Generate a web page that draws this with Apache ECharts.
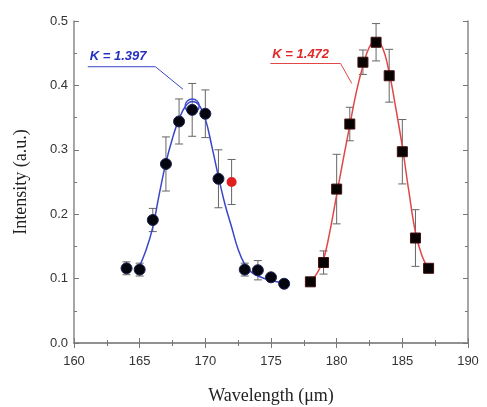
<!DOCTYPE html>
<html>
<head>
<meta charset="utf-8">
<script src="https://cdn.jsdelivr.net/npm/echarts@6/dist/echarts.min.js"></script>
<style>
  html, body { margin: 0; padding: 0; background: #fff; }
  #box1 { width: 487px; height: 407px; }
</style>
</head>
<body>
<div id="box1"></div>
<script>
// measured points, first peak (circles)
let blueX = [164, 165, 166, 167, 168, 169, 170, 171, 173, 174, 175, 176];
let blueY = [0.116, 0.114, 0.191, 0.278, 0.344, 0.362, 0.356, 0.255, 0.114, 0.113, 0.102, 0.092];
let blueErr = [0.010, 0.010, 0.018, 0.042, 0.035, 0.041, 0.037, 0.045, 0.010, 0.015, 0.005, 0.004];
// the red dot
let oddX = [172];
let oddY = [0.250];
let oddErr = [0.035];
// second peak (squares)
let redX = [178, 179, 180, 181, 182, 183, 184, 185, 186, 187];
let redY = [0.095, 0.125, 0.239, 0.340, 0.436, 0.467, 0.415, 0.297, 0.163, 0.116];
let redErr = [0.005, 0.018, 0.054, 0.026, 0.019, 0.029, 0.041, 0.050, 0.044, 0.006];
// fitted curves
let blueFitX = [164.8, 165.5, 166, 166.5, 167, 167.5, 168, 168.5, 169, 169.5, 170, 170.5, 171, 171.5, 172, 172.5, 173, 173.5, 174, 175, 176];
let blueFitY = [0.110, 0.145, 0.180, 0.232, 0.280, 0.318, 0.348, 0.368, 0.375, 0.370, 0.348, 0.305, 0.258, 0.215, 0.180, 0.145, 0.122, 0.110, 0.104, 0.097, 0.093];
let redFitX = [178, 178.5, 179, 179.5, 180, 180.5, 181, 181.5, 182, 182.5, 183, 183.5, 184, 184.5, 185, 185.5, 186, 186.5, 187];
let redFitY = [0.095, 0.108, 0.130, 0.175, 0.230, 0.285, 0.338, 0.390, 0.430, 0.460, 0.470, 0.458, 0.420, 0.365, 0.305, 0.235, 0.172, 0.135, 0.115];
// the highlighted fit peak
let ringX = [169];
let ringY = [0.368];
// labels and their leader lines
let blueLabel = 'K = 1.397';
let redLabel = 'K = 1.472';
let blueLeader = [[161.05, 0.429], [166.2, 0.429], [168.3, 0.394]];
let redLeader = [[174.95, 0.434], [180.3, 0.434], [181.15, 0.403]];

function pairs(xs, ys) {
    return xs.map(function (x, i) { return [x, ys[i]]; });
}
function errRows(xs, ys, es) {
    return xs.map(function (x, i) { return [x, ys[i] - es[i], ys[i] + es[i]]; });
}
function errorBars(data) {
    return {
        type: 'custom',
        z: 1,
        silent: true,
        data: data,
        renderItem: function (params, api) {
            let lo = api.coord([api.value(0), api.value(1)]);
            let hi = api.coord([api.value(0), api.value(2)]);
            let w = 4;
            let st = { stroke: '#666', lineWidth: 1 };
            return {
                type: 'group',
                children: [
                    { type: 'line', shape: { x1: lo[0], y1: lo[1], x2: hi[0], y2: hi[1] }, style: st },
                    { type: 'line', shape: { x1: lo[0] - w, y1: lo[1], x2: lo[0] + w, y2: lo[1] }, style: st },
                    { type: 'line', shape: { x1: hi[0] - w, y1: hi[1], x2: hi[0] + w, y2: hi[1] }, style: st }
                ]
            };
        }
    };
}

let box1 = document.querySelector('#box1');
let myChart1 = echarts.init(box1);

let axisLine = { show: true, lineStyle: { color: '#8a8a8a', width: 1.5 } };
let tickLine = { color: '#777', width: 1 };

let option1 = {
    animation: false,
    grid: { left: 74, right: 19, top: 21, bottom: 64, containLabel: false, outerBoundsMode: 'none' },
    xAxis: [
        {
            type: 'value', min: 160, max: 190, interval: 5,
            name: 'Wavelength (\u03bcm)', nameLocation: 'middle', nameGap: 44,
            nameTextStyle: { fontFamily: 'Liberation Serif', fontSize: 18, color: '#222' },
            axisLine: axisLine,
            axisTick: { inside: true, length: 5, lineStyle: tickLine },
            minorTick: { show: true, splitNumber: 2, length: 3, lineStyle: tickLine },
            axisLabel: { fontFamily: 'Liberation Sans', fontSize: 13, color: '#333', margin: 12 },
            splitLine: { show: false }
        },
        {
            type: 'value', position: 'top', min: 160, max: 190, interval: 5,
            axisLine: axisLine,
            axisTick: { inside: true, length: 5, lineStyle: tickLine },
            minorTick: { show: true, splitNumber: 2, length: 3, lineStyle: tickLine },
            axisLabel: { show: false },
            splitLine: { show: false }
        }
    ],
    yAxis: [
        {
            type: 'value', min: 0, max: 0.5, interval: 0.1,
            name: 'Intensity (a.u.)', nameLocation: 'middle', nameGap: 44,
            nameTextStyle: { fontFamily: 'Liberation Serif', fontSize: 18, color: '#222' },
            axisLine: axisLine,
            axisTick: { inside: true, length: 5, lineStyle: tickLine },
            minorTick: { show: true, splitNumber: 2, length: 3, lineStyle: tickLine },
            axisLabel: {
                fontFamily: 'Liberation Sans', fontSize: 13, color: '#333', margin: 6,
                formatter: function (v) { return v.toFixed(1); }
            },
            splitLine: { show: false }
        },
        {
            type: 'value', position: 'right', min: 0, max: 0.5, interval: 0.1,
            axisLine: axisLine,
            axisTick: { inside: true, length: 5, lineStyle: tickLine },
            minorTick: { show: true, splitNumber: 2, length: 3, lineStyle: tickLine },
            axisLabel: { show: false },
            splitLine: { show: false }
        }
    ],
    series: [
        errorBars(errRows(blueX, blueY, blueErr)),
        errorBars(errRows(oddX, oddY, oddErr)),
        errorBars(errRows(redX, redY, redErr)),
        {
            type: 'line', data: pairs(blueFitX, blueFitY), smooth: 0.4, showSymbol: false, z: 2,
            lineStyle: { color: '#3a46c8', width: 1.5 }
        },
        {
            type: 'line', data: pairs(redFitX, redFitY), smooth: 0.4, showSymbol: false, z: 2,
            lineStyle: { color: '#e04848', width: 1.5 }
        },
        {
            type: 'line', data: blueLeader, showSymbol: false, z: 2,
            lineStyle: { color: '#3a46c8', width: 1 }
        },
        {
            type: 'line', data: redLeader, showSymbol: false, z: 2,
            lineStyle: { color: '#e04848', width: 1 }
        },
        {
            type: 'scatter', data: pairs(ringX, ringY), symbol: 'circle', symbolSize: 14, z: 3,
            itemStyle: { color: 'rgba(0,0,0,0)', borderColor: '#4050d0', borderWidth: 1.5, opacity: 1 }
        },
        {
            type: 'scatter', data: pairs(blueX, blueY), symbol: 'circle', symbolSize: 11, z: 4,
            itemStyle: { color: '#050510', borderColor: '#1a2050', borderWidth: 1, opacity: 1 }
        },
        {
            type: 'scatter', data: pairs(oddX, oddY), symbol: 'circle', symbolSize: 10, z: 4,
            itemStyle: { color: '#e02020', opacity: 1 }
        },
        {
            type: 'scatter', data: pairs(redX, redY), symbol: 'rect', symbolSize: 10, z: 4,
            itemStyle: { color: '#080303', borderColor: '#401010', borderWidth: 1, opacity: 1 }
        }
    ]
};
myChart1.setOption(option1);

// place the K labels just above their leader lines
let pBlue = myChart1.convertToPixel({ gridIndex: 0 }, blueLeader[0]);
let pRed = myChart1.convertToPixel({ gridIndex: 0 }, redLeader[0]);
myChart1.setOption({
    graphic: [
        {
            type: 'text', x: pBlue[0] + 2, y: pBlue[1] - 4,
            style: {
                text: blueLabel, fill: '#2530c0', fontFamily: 'Liberation Sans',
                fontSize: 13, fontWeight: 'bold', fontStyle: 'italic', textVerticalAlign: 'bottom'
            }
        },
        {
            type: 'text', x: pRed[0] + 2, y: pRed[1] - 3,
            style: {
                text: redLabel, fill: '#e02828', fontFamily: 'Liberation Sans',
                fontSize: 13, fontWeight: 'bold', fontStyle: 'italic', textVerticalAlign: 'bottom'
            }
        }
    ]
});
</script>
</body>
</html>
